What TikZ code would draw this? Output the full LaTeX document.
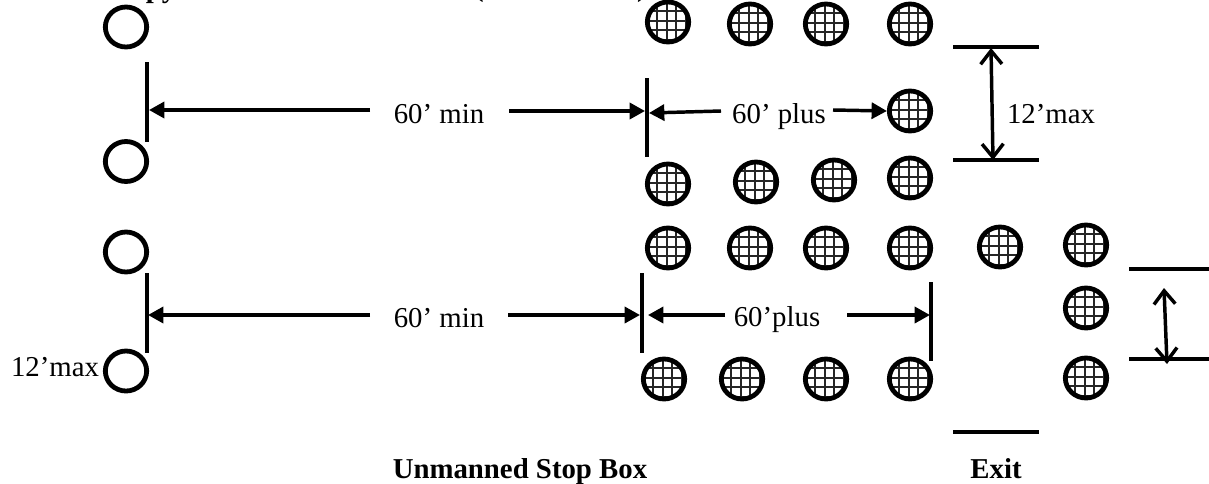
\documentclass[tikz,border=0pt]{standalone}
\usepackage{fontspec}
\setmainfont{Liberation Serif}
\usetikzlibrary{arrows.meta,shapes.geometric}
\tikzset{
  lab/.style={anchor=base,inner sep=0pt,font=\fontsize{21.6pt}{24pt}\selectfont},
  blab/.style={lab,font=\fontsize{21.6pt}{24pt}\selectfont\bfseries},
  ring/.style={ellipse,draw=black,line width=3.6pt,inner sep=0pt,minimum width=31pt,minimum height=30pt},
  grate/.style={ring,path picture={
    \foreach \k in {-3,...,3}{
      \draw[line width=1.4pt,black!85] ([xshift=\k*7.1pt-1pt]path picture bounding box.north) -- ([xshift=\k*7.1pt-1pt]path picture bounding box.south);
      \draw[line width=1.4pt,black!85] ([yshift=\k*7.1pt+1pt]path picture bounding box.west) -- ([yshift=\k*7.1pt+1pt]path picture bounding box.east);
    }}},
  rule/.style={line width=2.8pt,line cap=butt},
  dim/.style={line width=2.6pt,-{Triangle[length=11.5pt,width=12pt]}},
  dimopen/.style={line width=2.6pt,{Straight Barb[length=10pt,width=16pt,line width=2.6pt]}-{Straight Barb[length=10pt,width=16pt,line width=2.6pt]}}
}
\begin{document}
\begin{tikzpicture}[x=0.75pt,y=-0.75pt]
\useasboundingbox (0,0) rectangle (1209,483);
% clipped heading fragments
\node[blab] (hp) at (161,-3) {py};
\node[blab] (ho) at (479,-4) {(};
\node[blab] (hc) at (642,-4) {)};
% open circles
\node[ring] (o1) at (126,27) {};
\node[ring] (o2) at (126,161.5) {};
\node[ring] (o3) at (126,252) {};
\node[ring] (o4) at (126,371) {};
% grated circles
\node[grate] (a1) at (668,22) {};
\node[grate] (a2) at (750,24) {};
\node[grate] (a3) at (826,24) {};
\node[grate] (a4) at (910,24) {};
\node[grate] (b4) at (910,111) {};
\node[grate] (c1) at (668,184) {};
\node[grate] (c2) at (756,182) {};
\node[grate] (c3) at (834,180) {};
\node[grate] (c4) at (910,178) {};
\node[grate] (d1) at (668,248) {};
\node[grate] (d2) at (750,248) {};
\node[grate] (d3) at (826,248) {};
\node[grate] (d4) at (910,248) {};
\node[grate] (d5) at (1000,247) {};
\node[grate] (d6) at (1086,245) {};
\node[grate] (e6) at (1086,308) {};
\node[grate] (f1) at (664,379) {};
\node[grate] (f2) at (742,379) {};
\node[grate] (f3) at (826,379) {};
\node[grate] (f4) at (910,379) {};
\node[grate] (f6) at (1086,378) {};
% labels
\node[lab] (t1) at (439,123) {60’ min};
\node[lab] (t2) at (779,123) {60’ plus};
\node[lab] (t3) at (1051,123) {12’max};
\node[lab] (t4) at (439,327) {60’ min};
\node[lab] (t5) at (777,326) {60’plus};
\node[lab] (t6) at (55,376) {12’max};
\node[blab] (t7) at (520,478) {Unmanned Stop Box};
\node[blab] (t8) at (996,478) {Exit};
% tick coordinates
\coordinate (v1a) at (147,62);  \coordinate (v1b) at (147,142);
\coordinate (v2a) at (647,78);  \coordinate (v2b) at (647,157);
\coordinate (v3a) at (147,273); \coordinate (v3b) at (147,353);
\coordinate (v4a) at (642,273); \coordinate (v4b) at (642,353);
\coordinate (v5a) at (931,282); \coordinate (v5b) at (931,361);
\coordinate (h1a) at (953,47);  \coordinate (h1b) at (1039,47);
\coordinate (h2a) at (953,160); \coordinate (h2b) at (1039,160);
\coordinate (h3a) at (1129,269);\coordinate (h3b) at (1209,269);
\coordinate (h4a) at (1129,359);\coordinate (h4b) at (1209,359);
\coordinate (h5a) at (953,432); \coordinate (h5b) at (1039,432);
\foreach \p/\q in {v1a/v1b,v2a/v2b,v3a/v3b,v4a/v4b,v5a/v5b,h1a/h1b,h2a/h2b,h3a/h3b,h4a/h4b,h5a/h5b}
  \draw[rule] (\p) -- (\q);
% arrow ends
\coordinate (p1) at (149,110); \coordinate (q1) at (370,110);
\coordinate (p2) at (509,111); \coordinate (q2) at (645,111);
\coordinate (p3) at (721,111); \coordinate (q3) at (649,113);
\coordinate (p4) at (833,110);
\coordinate (p5) at (148,315); \coordinate (q5) at (370,315);
\coordinate (p6) at (508,315); \coordinate (q6) at (640,315);
\coordinate (p7) at (725,315); \coordinate (q7) at (648,315);
\coordinate (p8) at (847,315); \coordinate (q8) at (930,315);
\coordinate (u1) at (991,48);  \coordinate (u2) at (993,160);
\coordinate (u3) at (1164,288);\coordinate (u4) at (1167,364);
\draw[dim] (q1) -- (p1);
\draw[dim] (p2) -- (q2);
\draw[dim] (p3) -- (q3);
\draw[dim] (p4) -- (b4.west);
\draw[dim] (q5) -- (p5);
\draw[dim] (p6) -- (q6);
\draw[dim] (p7) -- (q7);
\draw[dim] (p8) -- (q8);
\draw[dimopen] (u1) -- (u2);
\draw[dimopen] (u3) -- (u4);
\end{tikzpicture}
\end{document}
